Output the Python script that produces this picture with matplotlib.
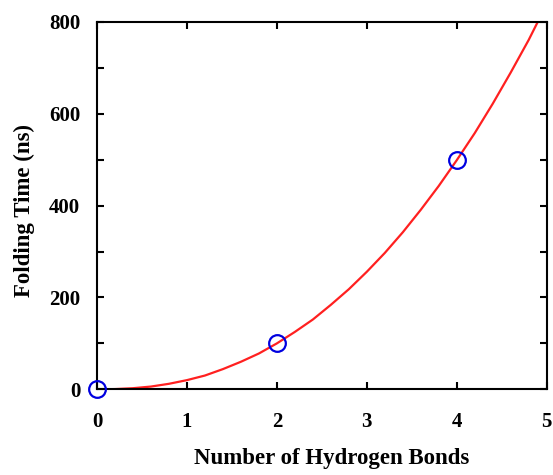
import matplotlib
matplotlib.use("Agg")
import matplotlib.pyplot as plt
from matplotlib.ticker import MultipleLocator

# measured points
bonds = [0, 2, 4]
fold_time = [0, 100, 500]

# fitted curve
curve_x = [0.0, 0.2, 0.4, 0.6, 0.8, 1.0, 1.2, 1.4, 1.6, 1.8, 2.0, 2.2, 2.4,
           2.6, 2.8, 3.0, 3.2, 3.4, 3.6, 3.8, 4.0, 4.2, 4.4, 4.6, 4.8, 4.9]
curve_y = [0, 0.5, 2.4, 6, 12, 20, 30, 44, 60, 78, 100, 125, 152,
           184, 218, 256, 297, 342, 391, 443, 499, 558, 622, 690, 761, 800]

plt.rcParams["font.family"] = ["Liberation Serif", "DejaVu Serif"]
plt.rcParams["font.weight"] = "bold"

fig = plt.figure(figsize=(5.53, 4.75), dpi=100)
ax = fig.add_axes([0.1754, 0.1804, 0.8132, 0.7733])

ax.plot(curve_x, curve_y, color="#ff2020", lw=1.6, zorder=2)
ax.plot(bonds, fold_time, "o", ms=12, mfc="none", mec="#0000e0", mew=1.6,
        clip_on=False, zorder=3)

ax.set_xlim(0, 5)
ax.set_ylim(0, 800)
ax.xaxis.set_major_locator(MultipleLocator(1))
ax.yaxis.set_major_locator(MultipleLocator(200))
ax.yaxis.set_minor_locator(MultipleLocator(100))
ax.tick_params(which="both", direction="in", top=True, right=True,
               length=5, width=1.5, labelsize=15)
ax.tick_params(axis="x", pad=16)
ax.tick_params(axis="y", pad=12)

for s in ax.spines.values():
    s.set_linewidth(1.5)

ax.set_xlabel("Number of Hydrogen Bonds", fontsize=16.5, fontweight="bold")
ax.set_ylabel("Folding Time (ns)", fontsize=16.5, fontweight="bold")
ax.xaxis.set_label_coords(0.521, -0.16)
ax.yaxis.set_label_coords(-0.138, 0.488)

fig.savefig("out.png", dpi=100)
